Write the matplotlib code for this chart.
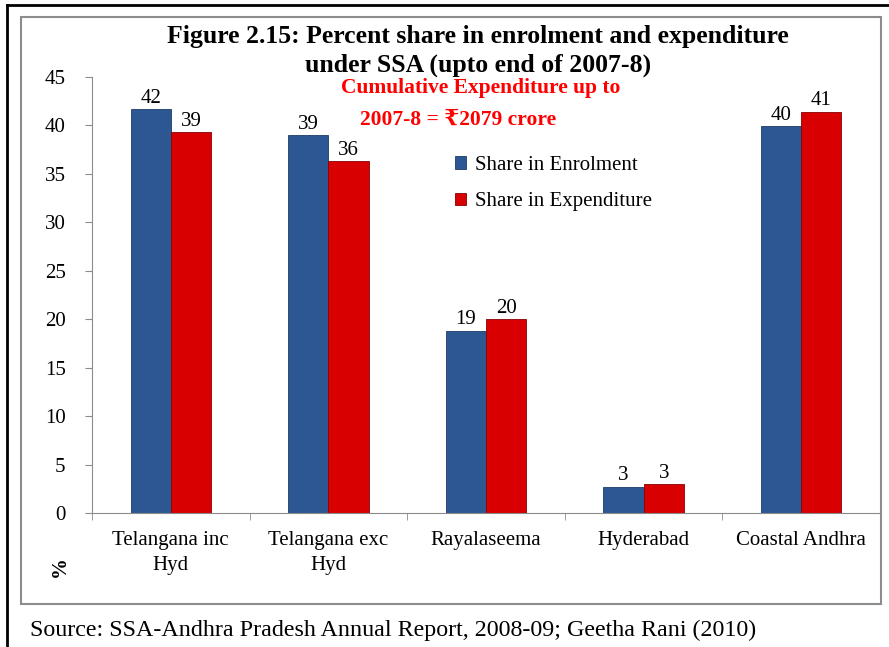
import numpy as np
import matplotlib.pyplot as plt
from matplotlib.patches import Rectangle
from matplotlib.lines import Line2D

regions = ['Telangana inc\nHyd', 'Telangana exc\nHyd', 'Rayalaseema', 'Hyderabad', 'Coastal Andhra']
enrolment = [41.7, 39.0, 18.8, 2.7, 39.9]
expenditure = [39.3, 36.3, 20.0, 3.0, 41.4]
enrol_labels = ['42', '39', '19', '3', '40']
exp_labels = ['39', '36', '20', '3', '41']

plt.rcParams['font.family'] = ['Liberation Serif', 'DejaVu Serif', 'DejaVu Sans']

fig = plt.figure(figsize=(8.89, 6.47), dpi=100)

# outer page frame and inner chart box
fig.add_artist(Line2D([7/889, 7/889], [0, 1 - 5/647], color='black', lw=2, transform=fig.transFigure))
fig.add_artist(Line2D([7/889, 1], [1 - 5/647, 1 - 5/647], color='black', lw=2, transform=fig.transFigure))
fig.add_artist(Rectangle((21/889, 1 - 604/647), 860/889, 587/647, transform=fig.transFigure,
                         fill=False, edgecolor='#8c8c8c', lw=1.5))

ax = fig.add_axes([92/889, 1 - 513/647, 788/889, 436/647])
x = np.arange(len(regions))
w = 0.255
b1 = ax.bar(x - w/2, enrolment, w, color='#2c5793', edgecolor='#1d3c66', lw=0.6, label='Share in Enrolment')
b2 = ax.bar(x + w/2, expenditure, w, color='#d80000', edgecolor='#8a0000', lw=0.6, label='Share in Expenditure')

for bars, labs in [(b1, enrol_labels), (b2, exp_labels)]:
    for bar, lab in zip(bars, labs):
        ax.annotate(lab, (bar.get_x() + bar.get_width()/2, bar.get_height()),
                    xytext=(0, 1), textcoords='offset points', ha='center', va='bottom', fontsize=15)

ax.set_xlim(-0.5, 4.5)
ax.set_ylim(0, 45)
ax.set_yticks(range(0, 46, 5))
ax.set_xticks(x)
ax.set_xticklabels(regions, fontsize=15, linespacing=1.4)
ax.set_xticks(np.arange(-0.5, 5, 1), minor=True)
ax.tick_params(axis='x', which='major', length=0, pad=13)
ax.tick_params(axis='x', which='minor', length=5, color='#8c8c8c')
ax.tick_params(axis='y', labelsize=15, length=5, color='#8c8c8c', pad=14)
for s in ['top', 'right']:
    ax.spines[s].set_visible(False)
for s in ['left', 'bottom']:
    ax.spines[s].set_color('#8c8c8c')

fig.text(60/889, 1 - 567/647, '%', rotation=90, fontsize=15, fontweight='bold', ha='center', va='center')

fig.text(478/889, 1 - 51/647, 'Figure 2.15: Percent share in enrolment and expenditure\nunder SSA (upto end of 2007-8)',
         ha='center', va='center', fontsize=18.5, fontweight='bold', linespacing=1.3)
fig.text(481/889, 1 - 88/647, 'Cumulative Expenditure up to', color='#ff0000', ha='center', va='center',
         fontsize=15.5, fontweight='bold')
fig.text(458/889, 1 - 120/647, '2007-8 = \u20b92079 crore', color='#ff0000', ha='center', va='center',
         fontsize=15.5, fontweight='bold')

fig.legend(handles=[b1, b2], loc='upper left', bbox_to_anchor=(436/889, 1 - 137/647), frameon=False,
           fontsize=15, handlelength=0.55, handleheight=0.55, handletextpad=0.4, labelspacing=0.85)

fig.text(30/889, 1 - 630/647, 'Source: SSA-Andhra Pradesh Annual Report, 2008-09; Geetha Rani (2010)',
         ha='left', va='center', fontsize=17.3)

fig.savefig('out.png', dpi=100)
